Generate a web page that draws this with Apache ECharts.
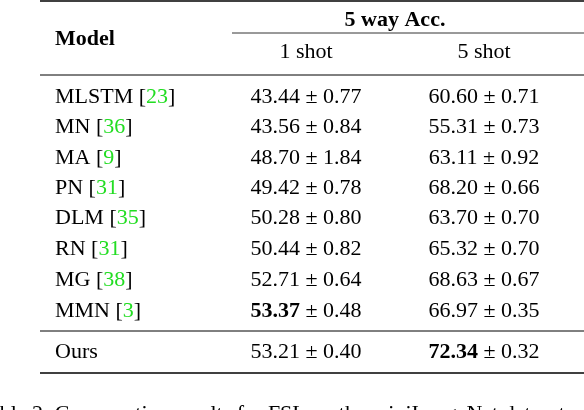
<!DOCTYPE html>
<html><head><meta charset="utf-8">
<script src="https://cdn.jsdelivr.net/npm/echarts@6/dist/echarts.min.js"></script>
<style>html,body{margin:0;background:#fff}#c{width:584px;height:410px}</style>
</head><body><div id="c"></div>
<script>
// table data
const models = ['MLSTM', 'MN', 'MA', 'PN', 'DLM', 'RN', 'MG', 'MMN', 'Ours'];
const refs = ['23', '36', '9', '31', '35', '31', '38', '3', ''];
const oneShot = ['43.44', '43.56', '48.70', '49.42', '50.28', '50.44', '52.71', '53.37', '53.21'];
const oneShotStd = ['0.77', '0.84', '1.84', '0.78', '0.80', '0.82', '0.64', '0.48', '0.40'];
const fiveShot = ['60.60', '55.31', '63.11', '68.20', '63.70', '65.32', '68.63', '66.97', '72.34'];
const fiveShotStd = ['0.71', '0.73', '0.92', '0.66', '0.70', '0.70', '0.67', '0.35', '0.32'];
const boldOne = 'MMN', boldFive = 'Ours';

const font = '"Liberation Serif", "DejaVu Serif", serif';
const fs = 22;
const rowY = [97, 127, 158, 188, 218, 249, 280, 311, 352];
const els = [];
function txt(x, y, t, align, rich, bold) {
  els.push({type: 'text', x: x, y: y, style: {
    text: t, x: 0, y: 0, align: align || 'left', verticalAlign: 'middle',
    fontSize: fs, fontFamily: font, fontWeight: bold ? 'bold' : 'normal', fill: '#000', rich: rich
  }});
}
function rule(x1, x2, y, w) {
  els.push({type: 'line', shape: {x1: x1, y1: y, x2: x2, y2: y}, style: {stroke: '#000', lineWidth: w}});
}
const rich = {
  n: {fontSize: fs, fontFamily: font, fill: '#000'},
  g: {fill: '#22dd22', fontSize: fs, fontFamily: font},
  b: {fontWeight: 'bold', fontSize: fs, fontFamily: font, fill: '#000'}
};
rule(40, 584, 1, 1.6);
txt(55, 39, 'Model', 'left', null, true);
txt(395, 20, '5 way Acc.', 'center', null, true);
rule(232, 584, 33, 0.8);
txt(306, 52, '1 shot', 'center');
txt(484, 52, '5 shot', 'center');
rule(40, 584, 75, 1);
models.forEach((m, i) => {
  const name = refs[i] ? '{n|' + m + ' [}{g|' + refs[i] + '}{n|]}' : '{n|' + m + '}';
  txt(55, rowY[i], name, 'left', rich);
  const a = (m === boldOne ? '{b|' + oneShot[i] + '}' : '{n|' + oneShot[i] + '}') + '{n| ± ' + oneShotStd[i] + '}';
  const b = (m === boldFive ? '{b|' + fiveShot[i] + '}' : '{n|' + fiveShot[i] + '}') + '{n| ± ' + fiveShotStd[i] + '}';
  txt(306, rowY[i], a, 'center', rich);
  txt(484, rowY[i], b, 'center', rich);
});
rule(40, 584, 331, 1);
rule(40, 584, 373, 1.6);
txt(-22, 414, 'Table 2: Comparative results for FSL on the miniImageNet dataset', 'left');

echarts.init(document.getElementById('c')).setOption({animation: false, graphic: {elements: els}});
</script></body></html>
